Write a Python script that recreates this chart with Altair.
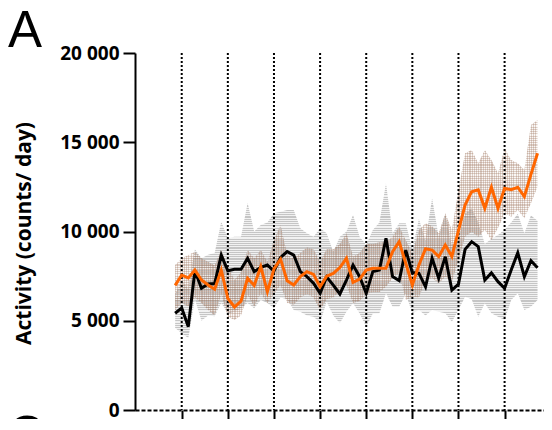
import altair as alt
import pandas as pd

days = list(range(56))

black = [5420, 5720, 4670, 7800, 6820, 7060, 7080, 8680, 7800, 7880,
         7880, 8500, 7750, 7990, 8120, 7780, 8550, 8870, 8680, 7750,
         7470, 7100, 6540, 7450, 7000, 6500, 7280, 8120, 7470, 6540,
         7750, 7840, 9620, 7470, 7250, 8960, 7700, 7650, 6900, 8500,
         7380, 8590, 6720, 7050, 9000, 9430, 9150, 7280, 7680, 7190,
         6820, 7840, 8810, 7470, 8360, 7970]
black_hi = [6500, 7200, 6800, 9000, 8500, 8700, 8800, 10550, 9620, 9700,
            9710, 11600, 10000, 10360, 10500, 11020, 11110, 11200, 11200, 10180,
            9900, 9710, 10180, 9900, 8870, 9710, 10000, 10920, 9710, 9240,
            10080, 10500, 12700, 9900, 10460, 10460, 9000, 10700, 9500, 11860,
            9700, 11000, 9200, 9600, 11000, 11300, 10500, 9300, 9600, 9800,
            10100, 10500, 11000, 9900, 10900, 10600]
black_lo = [4600, 4300, 4030, 6200, 5000, 5300, 5250, 6000, 5400, 5500,
            5700, 6000, 5700, 6160, 6000, 5700, 6300, 6200, 5600, 5500,
            5300, 5230, 4900, 6067, 5300, 4857, 5500, 5977, 5400, 4670,
            5400, 5417, 6537, 5787, 5790, 6500, 5417, 5600, 5300, 5600,
            5500, 5417, 4950, 5600, 6350, 6200, 5230, 5977, 5417, 5230,
            5040, 6160, 6537, 5600, 5790, 6160]

orange = [6980, 7560, 7400, 7840, 7280, 7000, 6770, 7840, 6250, 5770,
          6100, 7380, 6980, 8030, 6630, 7900, 8450, 7240, 7000, 7470,
          7750, 7600, 6900, 7500, 7650, 7980, 8500, 7150, 7330, 7840,
          7940, 7940, 7940, 8870, 9430, 8220, 7000, 8120, 9030, 8960,
          8590, 9240, 8600, 10050, 11480, 12230, 12330, 11300, 12480, 11300,
          12420, 12340, 12480, 11950, 13200, 14380]
orange_hi = [8120, 8500, 8683, 8870, 8500, 8300, 8100, 8963, 8030, 7300,
             7700, 8963, 8500, 8963, 8300, 9500, 10360, 8700, 8500, 8800,
             9100, 9000, 8300, 9000, 9000, 9300, 9900, 8600, 8800, 9300,
             9300, 9400, 9400, 9700, 10270, 9520, 8778, 10080, 10460, 10300,
             9900, 11020, 10080, 12325, 14380, 14560, 13820, 14560, 14000, 13260,
             14660, 14000, 13820, 13445, 15966, 16250]
orange_lo = [5600, 6000, 5800, 6300, 6000, 5600, 5300, 6500, 5230, 5040,
             5300, 6440, 5800, 6537, 5977, 6500, 7000, 6000, 5900, 6300,
             6500, 6300, 5600, 6200, 6300, 6700, 7000, 6000, 6100, 6500,
             6600, 6600, 6900, 7400, 7656, 6160, 6350, 6300, 7300, 7400,
             7100, 7470, 7190, 8400, 9710, 9990, 9710, 10080, 9520, 10200,
             11020, 10830, 11200, 10740, 11580, 12510]

week_ticks = [1, 8, 15, 22, 29, 36, 43, 50]
y_ticks = [0, 5000, 10000, 15000, 20000]

df = pd.DataFrame({
    "day": days,
    "black": black, "black_hi": black_hi, "black_lo": black_lo,
    "orange": orange, "orange_hi": orange_hi, "orange_lo": orange_lo,
})
weeks = pd.DataFrame({"day": week_ticks})
one = pd.DataFrame({"k": [0]})


def stripes(n, c1, c2, vertical=False, frac=0.5):
    stops = []
    for i in range(n):
        a, b, c = i / n, (i + frac) / n, (i + 1) / n
        stops += [alt.GradientStop(offset=a, color=c1), alt.GradientStop(offset=b, color=c1),
                  alt.GradientStop(offset=b, color=c2), alt.GradientStop(offset=c, color=c2)]
    if vertical:
        return alt.Gradient(gradient="linear", stops=stops, x1=0, x2=1, y1=0, y2=0)
    return alt.Gradient(gradient="linear", stops=stops, x1=0, x2=0, y1=0, y2=1)


xs = alt.Scale(domain=[-6.09, 55.98], nice=False, zero=False)
ys = alt.Scale(domain=[0, 20000], nice=False)

x_axis = alt.Axis(values=week_ticks, labels=False, title=None, tickSize=13,
                  tickWidth=2, tickColor="black", domainColor="black",
                  domainWidth=2, domainDash=[4, 2], grid=False)
y_axis = alt.Axis(values=y_ticks, title="Activity (counts/ day)",
                  labelExpr="replace(format(datum.value, ','), ',', ' ')",
                  labelFont="Open Sans", labelFontWeight="bold", labelFontSize=19,
                  labelColor="black", labelPadding=4, tickSize=12, tickWidth=2,
                  tickColor="black", domainColor="black", domainWidth=2, grid=False,
                  titleFont="Open Sans", titleFontWeight="bold", titleFontSize=21,
                  titleColor="black", titleAngle=270, titleX=-111, titleY=180,
                  titleAlign="center", titleBaseline="middle")

X = alt.X("day:Q", scale=xs, axis=x_axis)

grey_fill = stripes(70, "rgba(150,150,150,0.55)", "rgba(200,200,200,0.25)")
brown_h = stripes(90, "rgba(150,105,80,0.32)", "rgba(150,105,80,0.05)")
brown_v = stripes(165, "rgba(150,105,80,0.28)", "rgba(150,105,80,0.0)", vertical=True)

grey_band = alt.Chart(df).mark_area(fill=grey_fill, strokeWidth=0).encode(
    x=X, y=alt.Y("black_lo:Q", scale=ys, axis=y_axis), y2="black_hi:Q")
brown_band_h = alt.Chart(df).mark_area(fill=brown_h, strokeWidth=0).encode(
    x=X, y=alt.Y("orange_lo:Q", scale=ys, axis=y_axis), y2="orange_hi:Q")
brown_band_v = alt.Chart(df).mark_area(fill=brown_v, strokeWidth=0).encode(
    x=X, y=alt.Y("orange_lo:Q", scale=ys, axis=y_axis), y2="orange_hi:Q")
rules = alt.Chart(weeks).mark_rule(color="black", strokeWidth=2, strokeDash=[2, 2]).encode(x=X)
black_line = alt.Chart(df).mark_line(color="black", strokeWidth=3).encode(
    x=X, y=alt.Y("black:Q", scale=ys, axis=y_axis))
orange_line = alt.Chart(df).mark_line(color="#ff6600", strokeWidth=3).encode(
    x=X, y=alt.Y("orange:Q", scale=ys, axis=y_axis))

label_a = alt.Chart(one).mark_text(text="A", font="Liberation Sans", fontSize=51,
                                   align="left", baseline="alphabetic", color="black").encode(
    x=alt.value(-127), y=alt.value(-6))
label_c = alt.Chart(one).mark_text(text="C", font="Liberation Sans", fontSize=51,
                                   align="left", baseline="alphabetic", color="black").encode(
    x=alt.value(-127.5), y=alt.value(399))

chart = alt.layer(grey_band, brown_band_h, brown_band_v, rules, black_line, orange_line,
                  label_a, label_c).properties(
    width=409, height=357,
    padding={"left": 127, "top": 45, "right": 0, "bottom": 9},
    autosize=alt.AutoSizeParams(type="none"),
).configure_view(stroke=None)

chart.save("out.html", embed_options={"renderer": "svg", "actions": False})
